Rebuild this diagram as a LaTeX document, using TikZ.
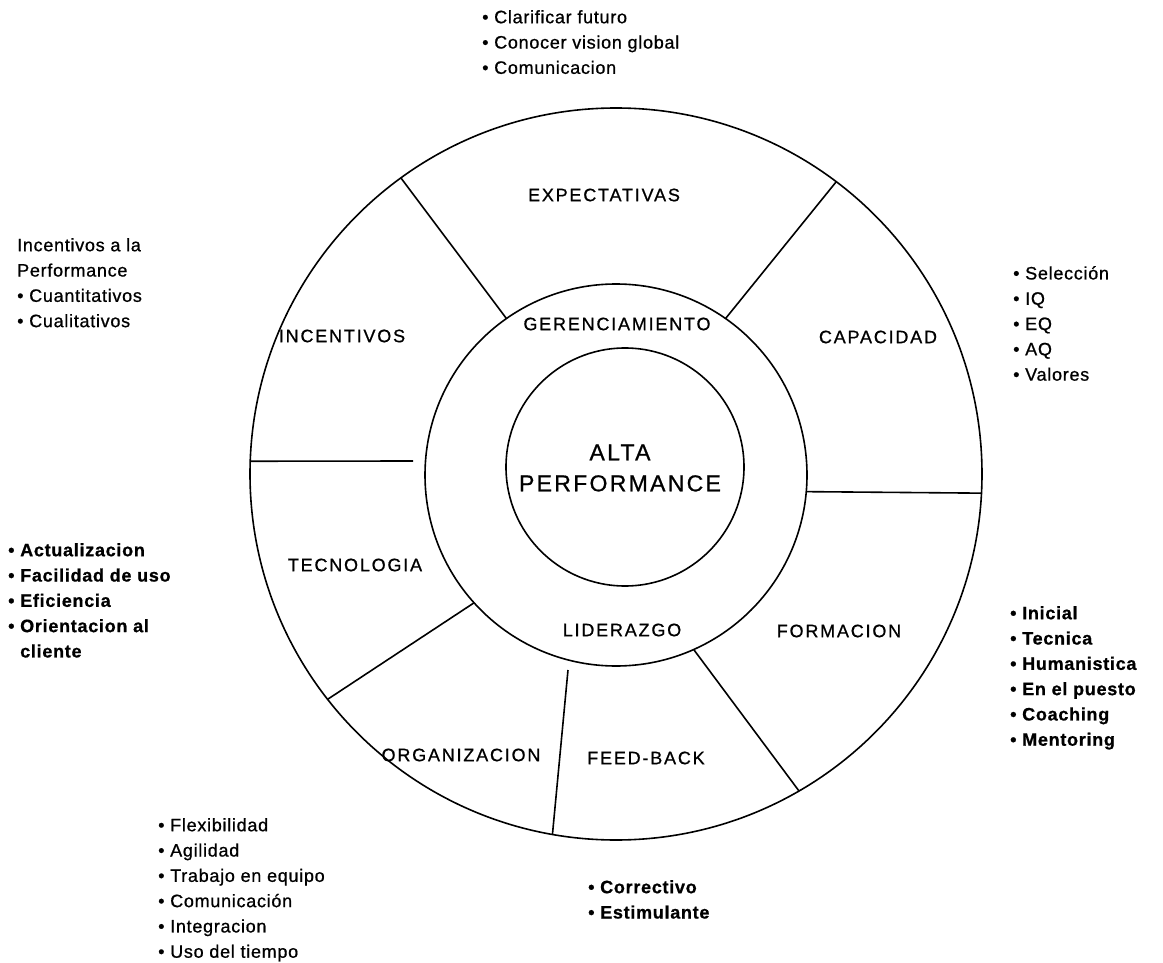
\documentclass[tikz,border=0pt]{standalone}
\usepackage{fontspec}
\setmainfont{Liberation Sans}
\newfontfamily\spaced[LetterSpace=10,FakeBold=0.8]{Liberation Sans}
\newfontfamily\listfont[LetterSpace=4,FakeBold=0.8]{Liberation Sans}

\tikzstyle{ring} = [circle, draw=black, line width=1.6pt, inner sep=0pt, outer sep=0pt]
\tikzstyle{divider} = [line width=1.6pt]
\tikzstyle{sectorLabel} = [inner sep=0pt, font=\spaced\fontsize{18}{22}\selectfont]
\tikzstyle{bulletList} = [align=left, anchor=north west, inner sep=0pt, font=\listfont\fontsize{18}{25.3}\selectfont]
\tikzstyle{bulletListBold} = [bulletList, font=\listfont\fontsize{18}{25.3}\selectfont\bfseries]

\begin{document}
\begin{tikzpicture}[x=1pt, y=-1pt]
  \useasboundingbox (0,0) rectangle (1163,963);

  % rings
  \node (outer)[ring, minimum size=732pt] at (616,474) {};
  \node (middle)[ring, minimum size=382pt] at (616,475) {};
  \node (inner)[ring, minimum size=238pt] at (625,467) {};

  % sectors of the outer ring
  \coordinate (tecEnd) at (413,461);
  \coordinate (fbTop) at (568,670);
  \draw [divider] (middle.125) -- (outer.126);
  \draw [divider] (middle.55) -- (outer.53);
  \draw [divider] (outer.178) -- (tecEnd);
  \draw [divider] (middle.-5) -- (outer.-3);
  \draw [divider] (middle.222) -- (outer.218);
  \draw [divider] (fbTop) -- (outer.260);
  \draw [divider] (middle.294) -- (outer.300);

  \node (expect)[sectorLabel] at (604,195) {EXPECTATIVAS};
  \node (incent)[sectorLabel] at (342,336) {INCENTIVOS};
  \node (capac)[sectorLabel] at (878,337) {CAPACIDAD};
  \node (tecno)[sectorLabel] at (355,565) {TECNOLOGIA};
  \node (forma)[sectorLabel] at (839,631) {FORMACION};
  \node (organ)[sectorLabel] at (461,755) {ORGANIZACION};
  \node (feedb)[sectorLabel] at (646,758) {FEED-BACK};

  % middle ring
  \node (geren)[sectorLabel] at (617,324) {GERENCIAMIENTO};
  \node (lider)[sectorLabel] at (622,630) {LIDERAZGO};

  % centre
  \node (alta)[sectorLabel, align=center, font=\spaced\fontsize{23}{31}\selectfont] at (620,468) {ALTA\\PERFORMANCE};

  % lists around the wheel
  \node (expList)[bulletList] at (482,10) {• Clarificar futuro\\• Conocer vision global\\• Comunicacion};
  \node (incList)[bulletList] at (17,238) {Incentivos a la\\Performance\\• Cuantitativos\\• Cualitativos};
  \node (capList)[bulletList] at (1013,266) {• Selección\\• IQ\\• EQ\\• AQ\\• Valores};
  \node (tecList)[bulletListBold] at (8,543) {• Actualizacion\\• Facilidad de uso\\• Eficiencia\\• Orientacion al\\\phantom{• }cliente};
  \node (forList)[bulletListBold] at (1010,606) {• Inicial\\• Tecnica\\• Humanistica\\• En el puesto\\• Coaching\\• Mentoring};
  \node (orgList)[bulletList] at (158,818) {• Flexibilidad\\• Agilidad\\• Trabajo en equipo\\• Comunicación\\• Integracion\\• Uso del tiempo};
  \node (fbList)[bulletListBold] at (588,880) {• Correctivo\\• Estimulante};
\end{tikzpicture}
\end{document}
